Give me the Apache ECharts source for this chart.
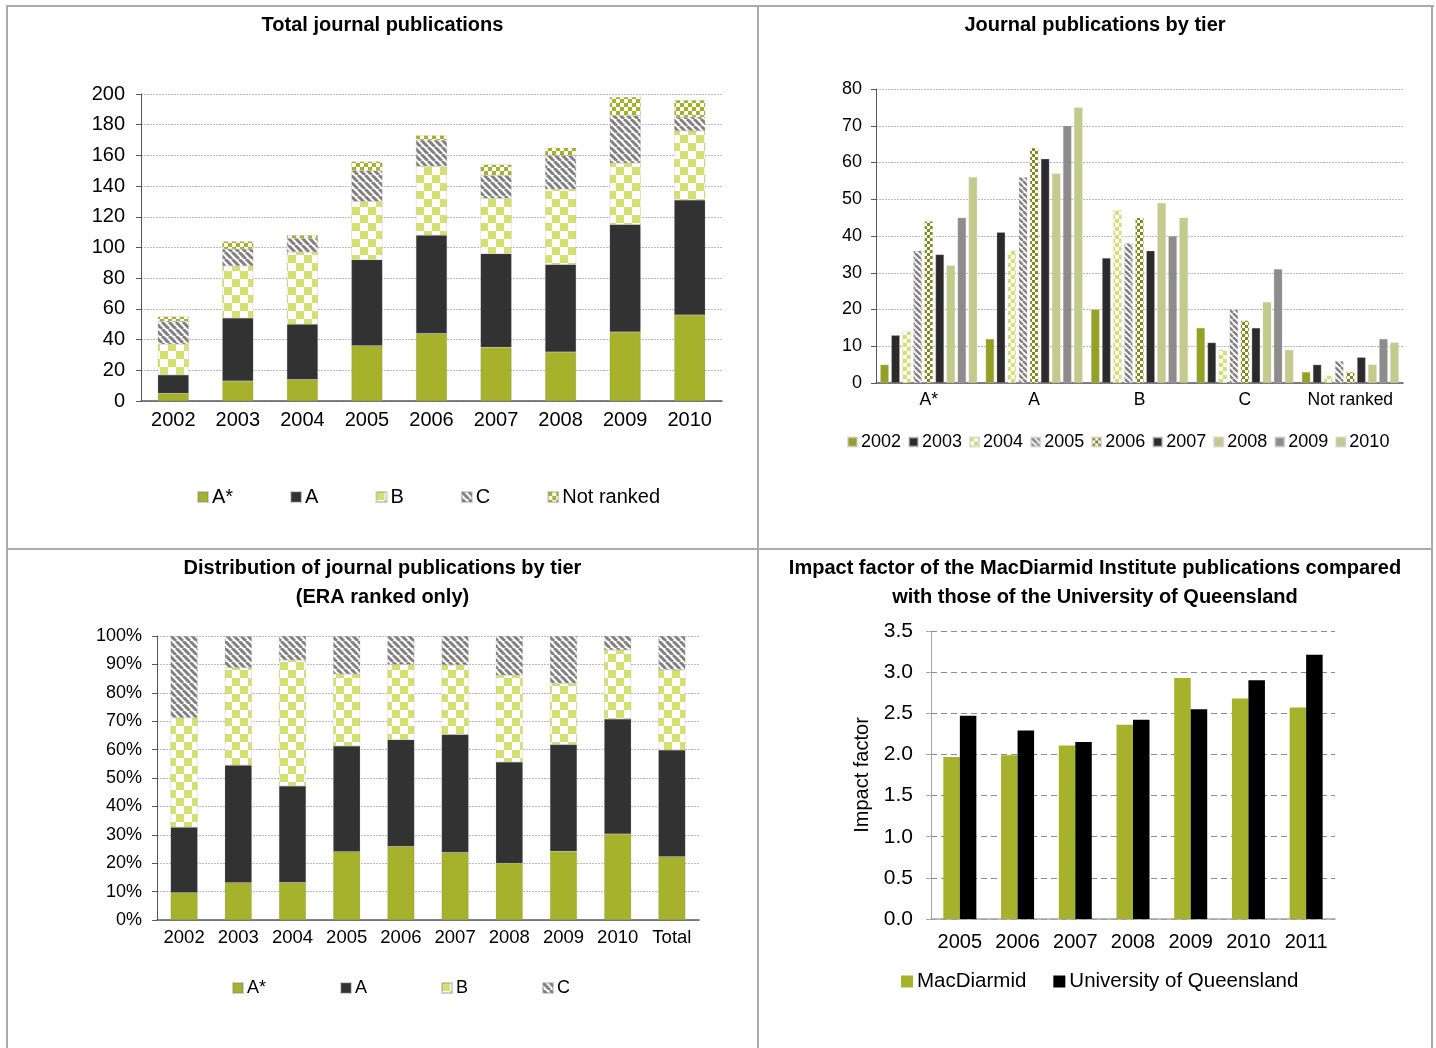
<!DOCTYPE html>
<html>
<head>
<meta charset="utf-8">
<script src="https://cdn.jsdelivr.net/npm/echarts@6/dist/echarts.min.js"></script>
<style>
body { margin: 0; background: #fff; width: 1436px; height: 1048px; overflow: hidden; position: relative; }
.line { position: absolute; background: #ababab; }
.chart { position: absolute; }
</style>
</head>
<body>
<div class="line" style="left:6px;top:5px;width:1428px;height:2px"></div>
<div class="line" style="left:6px;top:5px;width:2px;height:1043px"></div>
<div class="line" style="left:1431px;top:5px;width:2px;height:1043px"></div>
<div class="line" style="left:757px;top:5px;width:2px;height:1043px"></div>
<div class="line" style="left:6px;top:548px;width:1427px;height:2px"></div>

<div id="total" class="chart" style="left:8px;top:7px;width:749px;height:541px"></div>
<div id="byTier" class="chart" style="left:759px;top:7px;width:672px;height:541px"></div>
<div id="dist" class="chart" style="left:8px;top:550px;width:749px;height:498px"></div>
<div id="impact" class="chart" style="left:759px;top:550px;width:672px;height:498px"></div>

<script>
var FONT = "'Liberation Sans', Arial, sans-serif";

// publications per tier, 2002-2010
var years = ['2002', '2003', '2004', '2005', '2006', '2007', '2008', '2009', '2010'];
var tiers = ['A*', 'A', 'B', 'C', 'Not ranked'];
var aStar = [5, 13, 14, 36, 44, 35, 32, 45, 56];
var aRank = [12, 41, 36, 56, 64, 61, 57, 70, 75];
var bRank = [20, 34, 47, 38, 45, 36, 49, 40, 45];
var cRank = [15, 11, 9, 20, 17, 15, 22, 31, 9];
var notRanked = [3, 5, 2, 6, 3, 7, 5, 12, 11];

// distribution by tier (ERA ranked only), percent
var distCats = ['2002', '2003', '2004', '2005', '2006', '2007', '2008', '2009', '2010', 'Total'];
var pctAStar = [9.6, 13.1, 13.2, 24.0, 25.9, 23.8, 20.0, 24.2, 30.3, 22.3];
var pctA = [23.1, 41.4, 34.0, 37.3, 37.6, 41.5, 35.6, 37.6, 40.5, 37.6];
var pctB = [38.5, 34.3, 44.3, 25.3, 26.5, 24.5, 30.6, 21.5, 24.3, 28.2];
var pctC = [28.8, 11.1, 8.5, 13.3, 10.0, 10.2, 13.8, 16.7, 4.9, 11.9];

// impact factor
var ifYears = ['2005', '2006', '2007', '2008', '2009', '2010', '2011'];
var macDiarmid = [1.97, 1.99, 2.11, 2.36, 2.93, 2.68, 2.57];
var uniQueensland = [2.47, 2.29, 2.15, 2.42, 2.55, 2.90, 3.21];

function checker(color, size) {
	var c = document.createElement('canvas');
	c.width = c.height = size * 2;
	var ctx = c.getContext('2d');
	ctx.fillStyle = '#fff';
	ctx.fillRect(0, 0, size * 2, size * 2);
	ctx.fillStyle = color;
	ctx.fillRect(0, 0, size, size);
	ctx.fillRect(size, size, size, size);
	return { image: c, repeat: 'repeat' };
}

function stripes(color, size, width) {
	var c = document.createElement('canvas');
	c.width = c.height = size;
	var ctx = c.getContext('2d');
	ctx.fillStyle = '#fff';
	ctx.fillRect(0, 0, size, size);
	ctx.strokeStyle = color;
	ctx.lineWidth = width;
	[-size, 0, size].forEach(function (k) {
		ctx.beginPath();
		ctx.moveTo(k, 0);
		ctx.lineTo(k + size, size);
		ctx.stroke();
	});
	return { image: c, repeat: 'repeat' };
}

var OLIVE = '#a6b22b';
var DARK = '#323232';
var LIME = '#d4e070';
var GREY = '#808080';

function valueAxis(min, max, interval, fmt, size, margin, dashed) {
	return {
		type: 'value',
		min: min,
		max: max,
		interval: interval,
		axisLine: { show: true, lineStyle: { color: '#595959', width: 1 } },
		axisTick: { show: true, length: 5, lineStyle: { color: '#595959' } },
		axisLabel: { color: '#000', fontFamily: FONT, fontSize: size, margin: margin, formatter: fmt },
		splitLine: { lineStyle: dashed ? { color: '#8c8c8c', type: [6, 4] } : { color: '#bdbdbd', type: [2, 1] } }
	};
}

function catAxis(data, size, margin) {
	return {
		type: 'category',
		data: data,
		axisLine: { lineStyle: { color: '#595959', width: 1.5 } },
		axisTick: { length: 6, lineStyle: { color: '#595959' } },
		axisLabel: { color: '#000', fontFamily: FONT, fontSize: size, margin: margin, interval: 0 }
	};
}

function titleOf(text, top) {
	return {
		text: text,
		left: 'center',
		top: top,
		padding: 0,
		textStyle: { fontFamily: FONT, fontSize: 20, fontWeight: 'bold', color: '#000', lineHeight: 29 }
	};
}

function legendOf(left, top, gap, size, icon) {
	return {
		left: left,
		top: top,
		padding: 0,
		icon: 'rect',
		itemWidth: icon,
		itemHeight: icon,
		itemGap: gap,
		textStyle: { fontFamily: FONT, fontSize: size, color: '#000', padding: [0, 0, 0, -1] }
	};
}

drawTotal();
drawByTier();
drawDist();
drawImpact();

function drawTotal() {
	var myChart = echarts.init(document.getElementById('total'));
	var fills = [OLIVE, DARK, checker(LIME, 8), stripes(GREY, 7, 3), checker(OLIVE, 4)];
	var values = [aStar, aRank, bRank, cRank, notRanked];
	var option = {
		animation: false,
		title: titleOf('Total journal publications', 4),
		legend: legendOf(189, 480, 57, 20, 10),
		grid: { left: 133, top: 87, width: 581, height: 307 },
		xAxis: catAxis(years, 20, 9),
		yAxis: valueAxis(0, 200, 20, null, 20, 16, false),
		series: tiers.map(function (name, i) {
			return {
				name: name,
				type: 'bar',
				stack: 'total',
				barWidth: 31,
				data: values[i],
				itemStyle: { color: fills[i], borderColor: 'rgba(120,120,120,0.35)', borderWidth: 0.5 }
			};
		})
	};
	myChart.setOption(option);
}

function drawByTier() {
	var myChart = echarts.init(document.getElementById('byTier'));
	var fills = ['#95a124', '#2b2b2b', checker(LIME, 4), stripes(GREY, 6, 2.5), checker('#7e8b1c', 3),
		'#2b2b2b', '#c3cb8a', '#8c8c8c', '#c2cb8b'];
	// one series per year, one bar per tier
	var byYear = years.map(function (y, i) {
		return [aStar[i], aRank[i], bRank[i], cRank[i], notRanked[i]];
	});
	var option = {
		animation: false,
		title: titleOf('Journal publications by tier', 4),
		legend: legendOf(88, 426, 7, 18, 9),
		grid: { left: 117, top: 82, width: 527, height: 294 },
		xAxis: catAxis(tiers, 17.5, 8),
		yAxis: valueAxis(0, 80, 10, null, 18, 14, false),
		series: years.map(function (y, i) {
			return {
				name: y,
				type: 'bar',
				barWidth: 8.5,
				barGap: '30%',
				data: byYear[i],
				itemStyle: { color: fills[i], borderColor: 'rgba(200,200,200,0.6)', borderWidth: 0.5 }
			};
		})
	};
	myChart.setOption(option);
}

function drawDist() {
	var myChart = echarts.init(document.getElementById('dist'));
	var fills = [OLIVE, DARK, checker(LIME, 8), stripes(GREY, 7, 3)];
	var values = [pctAStar, pctA, pctB, pctC];
	var option = {
		animation: false,
		title: titleOf('Distribution of journal publications by tier\n(ERA ranked only)', 4),
		legend: legendOf(224, 429, 74, 18, 10),
		grid: { left: 149, top: 86, width: 542, height: 284 },
		xAxis: catAxis(distCats, 18.5, 8),
		yAxis: valueAxis(0, 100, 10, '{value}%', 18, 15, false),
		series: ['A*', 'A', 'B', 'C'].map(function (name, i) {
			return {
				name: name,
				type: 'bar',
				stack: 'dist',
				barWidth: 27,
				data: values[i],
				itemStyle: { color: fills[i], borderColor: 'rgba(120,120,120,0.35)', borderWidth: 0.5 }
			};
		})
	};
	myChart.setOption(option);
}

function drawImpact() {
	var myChart = echarts.init(document.getElementById('impact'));
	var yAxis = valueAxis(0, 3.5, 0.5, function (v) { return v.toFixed(1); }, 21, 18, true);
	yAxis.axisLine.lineStyle.color = '#a6a6a6';
	yAxis.axisTick.lineStyle.color = '#a6a6a6';
	yAxis.name = 'Impact factor';
	yAxis.nameLocation = 'middle';
	yAxis.nameGap = 51;
	yAxis.nameTextStyle = { fontFamily: FONT, fontSize: 20, color: '#000' };
	var xAxis = catAxis(ifYears, 20, 13);
	xAxis.axisLine.lineStyle.color = '#a6a6a6';
	xAxis.axisTick.lineStyle.color = '#a6a6a6';
	var option = {
		animation: false,
		title: titleOf('Impact factor of the MacDiarmid Institute publications compared\nwith those of the University of Queensland', 4),
		legend: legendOf(142, 421, 27, 20.5, 12),
		grid: { left: 172, top: 81, width: 404, height: 288 },
		xAxis: xAxis,
		yAxis: yAxis,
		series: [{
				name: 'MacDiarmid',
				type: 'bar',
				barWidth: 16.5,
				barGap: 0,
				data: macDiarmid,
				itemStyle: { color: OLIVE }
			}, {
				name: 'University of Queensland',
				type: 'bar',
				barWidth: 16.5,
				barGap: 0,
				data: uniQueensland,
				itemStyle: { color: '#000' }
			}
		]
	};
	myChart.setOption(option);
}
</script>
</body>
</html>
